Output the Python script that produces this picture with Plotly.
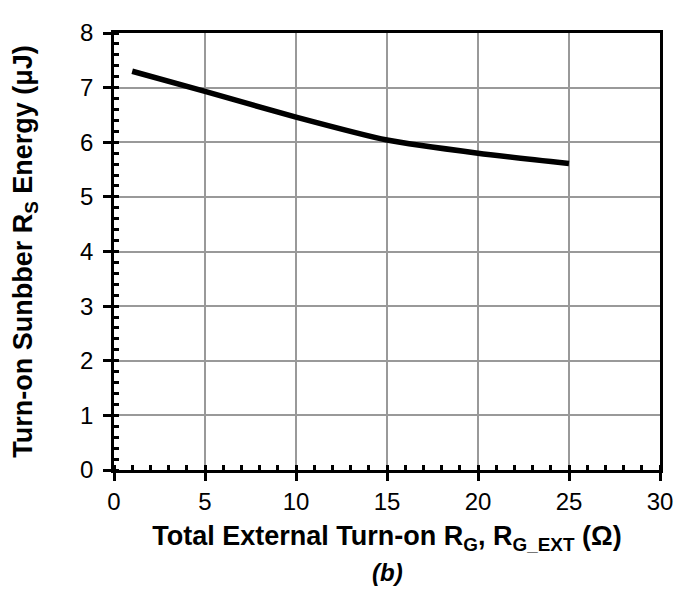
import plotly.graph_objects as go

# Data
rg_ext = [1, 5, 10, 15, 20, 25]
energy_uj = [7.30, 6.93, 6.46, 6.04, 5.80, 5.61]

x_ticks = [0, 5, 10, 15, 20, 25, 30]
y_ticks = [0, 1, 2, 3, 4, 5, 6, 7, 8]

FONT = "Liberation Sans, Arial, sans-serif"

fig = go.Figure()
fig.add_trace(go.Scatter(
    x=rg_ext, y=energy_uj, mode="lines",
    line=dict(color="black", width=5.5, shape="spline", smoothing=0.6),
    showlegend=False, hoverinfo="skip"))

axis_common = dict(
    showline=True, linecolor="black", linewidth=2.5, mirror=True,
    showgrid=True, gridcolor="#999999", gridwidth=1.5,
    zeroline=False,
    ticks="outside", ticklen=8, tickwidth=2.5, tickcolor="black",
    tickfont=dict(family=FONT, size=24, color="black"),
)

fig.update_xaxes(
    range=[0, 30], tickvals=x_ticks, ticktext=[str(v) for v in x_ticks],
    minor=dict(ticks="inside", ticklen=5, tickwidth=2.5, tickcolor="black",
               dtick=1, showgrid=False),
    ticklabelstandoff=0,
    title=dict(text="Total External Turn-on R<sub>G</sub>, R<sub>G_EXT</sub> (Ω)",
               font=dict(family=FONT, size=27, color="black", weight="bold"),
               standoff=13),
    **axis_common)

fig.update_yaxes(
    range=[0, 8], tickvals=y_ticks, ticktext=[str(v) for v in y_ticks],
    minor=dict(ticks="inside", ticklen=5, tickwidth=2.5, tickcolor="black",
               dtick=0.2, showgrid=False),
    ticklabelstandoff=5,
    title=dict(text="Turn-on Sunbber R<sub>S</sub> Energy (μJ)",
               font=dict(family=FONT, size=27, color="black", weight="bold"),
               standoff=40),
    **axis_common)

fig.add_annotation(
    text="<b><i>(b)</i></b>", xref="paper", yref="paper", x=0.5, y=-0.235,
    xanchor="center", yanchor="middle", showarrow=False,
    font=dict(family=FONT, size=24, color="black"))

# The page body has an 8px default margin; size the figure to fit the window.
fig.update_layout(
    width=681, height=589,
    margin=dict(l=106, r=29, t=11, b=127),
    plot_bgcolor="white", paper_bgcolor="white",
    font=dict(family=FONT, color="black"),
)

fig.write_html("out.html")
